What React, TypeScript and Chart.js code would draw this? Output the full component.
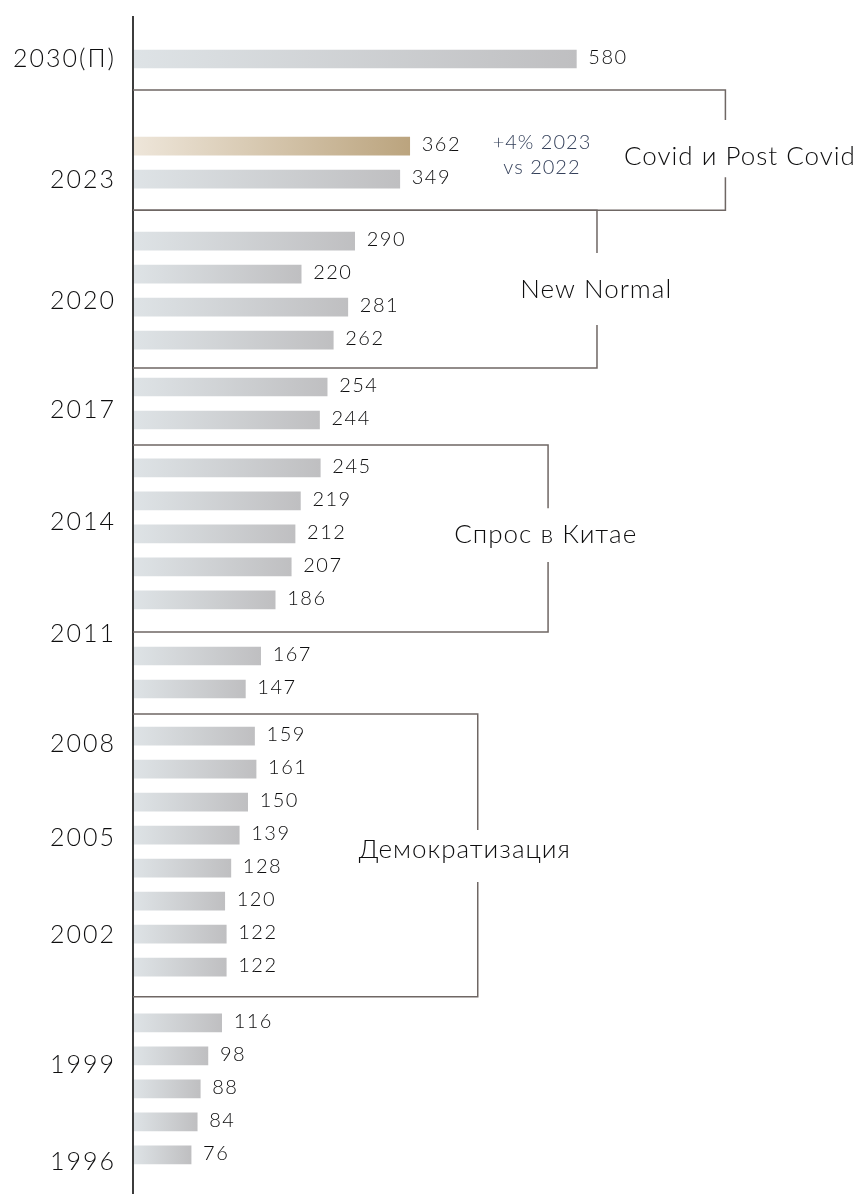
import React, { useEffect, useRef } from 'react';
import { Chart, registerables } from 'chart.js';

Chart.register(...registerables);

// ---------- data ----------
const years = ['2030', '2023', '2022', '2021', '2020', '2019', '2018', '2017', '2016', '2015', '2014', '2013', '2012', '2011', '2010', '2009', '2008', '2007', '2006', '2005', '2004', '2003', '2002', '2001', '2000', '1999', '1998', '1997', '1996'];
const salesBn = [580, 362, 349, 290, 220, 281, 262, 254, 244, 245, 219, 212, 207, 186, 167, 147, 159, 161, 150, 139, 128, 120, 122, 122, 116, 98, 88, 84, 76];
const highlightYear = '2023';
const yearTickLabels = ['2030(П)', '2023', '2020', '2017', '2014', '2011', '2008', '2005', '2002', '1999', '1996'];
const phaseLabels = ['Covid и Post Covid', 'New Normal', 'Спрос в Китае', 'Демократизация'];
const growthNote = ['+4% 2023', 'vs 2022'];

// ---------- layout (row units on the linear index axis) ----------
const GROUP_SIZES = [1, 2, 4, 2, 5, 2, 8, 5];
const GROUP_GAPS = [0, 2.64, 1.88, 1.42, 1.45, 1.7, 1.43, 1.69];
const ROWS: number[] = [];
{
  let cur = 0;
  GROUP_SIZES.forEach((n, g) => {
    if (g > 0) cur += GROUP_GAPS[g];
    for (let k = 0; k < n; k++) {
      if (k > 0) cur += 1;
      ROWS.push(cur);
    }
  });
}
const TICK_ROWS = [0, 3.67, 7.33, 10.64, 14.03, 17.42, 20.76, 23.61, 26.55, 30.48, 33.42];
const Y_MIN = -1.2727;
const Y_MAX = 34.394;
const X_MAX = 955;

// brackets: rows for top/bottom/gap/text, x in value units
const BRACKETS = [
  { top: 0.94, bottom: 4.58, right: 775, gapTop: 1.85, gapBottom: 3.58, textRow: 2.97, textX: 794 },
  { top: 4.58, bottom: 9.36, right: 607, gapTop: 5.88, gapBottom: 8.06, textRow: 7.0, textX: 606 },
  { top: 11.7, bottom: 17.36, right: 543, gapTop: 13.61, gapBottom: 15.24, textRow: 14.42, textX: 540 },
  { top: 19.85, bottom: 28.42, right: 451, gapTop: 23.36, gapBottom: 24.94, textRow: 23.97, textX: 434 },
];
const NOTE_X = 535;
const NOTE_ROWS = [2.52, 3.3];

const FONT = 'Lato';
const WEIGHT = '300';
const TEXT = '#0e0e0f';

const overlayPlugin = {
  id: 'overlay',
  beforeDraw(chart: any) {
    (chart.ctx as any).letterSpacing = '2px';
  },
  afterDraw(chart: any) {
    const ctx = chart.ctx as any;
    const xs = chart.scales.x;
    const ys = chart.scales.y;
    const left = chart.chartArea.left;
    ctx.save();
    // value labels
    ctx.letterSpacing = '1.5px';
    ctx.font = `${WEIGHT} 20px ${FONT}`;
    ctx.fillStyle = TEXT;
    ctx.textAlign = 'left';
    ctx.textBaseline = 'middle';
    const meta = chart.getDatasetMeta(0);
    meta.data.forEach((bar: any, i: number) => {
      ctx.fillText(String(salesBn[i]), bar.x + 12, bar.y - 1.5);
    });
    // brackets
    ctx.strokeStyle = '#6f6764';
    ctx.lineWidth = 1.5;
    BRACKETS.forEach((b, i) => {
      const yt = ys.getPixelForValue(b.top);
      const yb = ys.getPixelForValue(b.bottom);
      const xr = xs.getPixelForValue(b.right);
      const g1 = ys.getPixelForValue(b.gapTop);
      const g2 = ys.getPixelForValue(b.gapBottom);
      ctx.beginPath();
      ctx.moveTo(left, yt);
      ctx.lineTo(xr, yt);
      ctx.lineTo(xr, g1);
      ctx.moveTo(xr, g2);
      ctx.lineTo(xr, yb);
      ctx.lineTo(left, yb);
      ctx.stroke();
      ctx.font = `${WEIGHT} 26px ${FONT}`;
      ctx.letterSpacing = '1px';
      ctx.textAlign = 'center';
      ctx.fillStyle = TEXT;
      ctx.fillText(phaseLabels[i], xs.getPixelForValue(b.textX), ys.getPixelForValue(b.textRow));
    });
    // growth note
    ctx.font = `${WEIGHT} 20px ${FONT}`;
    ctx.letterSpacing = '1px';
    ctx.fillStyle = '#34405a';
    ctx.textAlign = 'center';
    growthNote.forEach((t, i) => {
      ctx.fillText(t, xs.getPixelForValue(NOTE_X), ys.getPixelForValue(NOTE_ROWS[i]));
    });
    ctx.restore();
  },
};

export default function App() {
  const ref = useRef<HTMLCanvasElement | null>(null);
  useEffect(() => {
    if (!ref.current) return;
    const chart = new Chart(ref.current, {
      type: 'bar',
      data: {
        labels: years,
        datasets: [
          {
            data: salesBn.map((v, i) => ({ x: v, y: ROWS[i] })) as any,
            barThickness: 18,
            borderWidth: 0,
            backgroundColor: (c: any) => {
              const ch = c.chart;
              const xs = ch.scales?.x;
              if (!ch.chartArea || !xs || c.dataIndex === undefined) return '#c8c9cb';
              const x0 = xs.getPixelForValue(0);
              const x1 = xs.getPixelForValue(salesBn[c.dataIndex]);
              const g = ch.ctx.createLinearGradient(x0, 0, x1, 0);
              const hi = years[c.dataIndex] === highlightYear;
              g.addColorStop(0, hi ? '#eee6da' : '#dee3e6');
              g.addColorStop(1, hi ? '#bba47e' : '#bfbfc1');
              return g;
            },
          },
        ],
      },
      options: {
        indexAxis: 'y',
        animation: false,
        responsive: false,
        layout: { padding: { top: 17, left: 0, right: 0, bottom: 0 } },
        plugins: { legend: { display: false }, tooltip: { enabled: false } },
        scales: {
          x: { type: 'linear', display: false, min: 0, max: X_MAX, offset: false },
          y: {
            type: 'linear',
            reverse: true,
            offset: false,
            min: Y_MIN,
            max: Y_MAX,
            grid: { display: false, drawTicks: false, offset: false },
            border: { display: true, color: '#3c3c3c', width: 2, z: 1 },
            afterBuildTicks: (axis: any) => {
              axis.ticks = TICK_ROWS.map((v) => ({ value: v }));
            },
            afterFit: (axis: any) => {
              axis.width = 133;
              axis.paddingTop = 0;
              axis.paddingBottom = 0;
            },
            ticks: {
              autoSkip: false,
              padding: 17,
              color: TEXT,
              font: { family: FONT, size: 25, weight: WEIGHT },
              callback: (_v: any, i: number) => yearTickLabels[i],
            },
          },
        },
      },
      plugins: [overlayPlugin],
    } as any);
    return () => chart.destroy();
  }, []);
  return (
    <div style={{ position: 'absolute', left: 0, top: 0, width: 863, height: 1194 }}>
      <canvas ref={ref} width={863} height={1194} />
    </div>
  );
}
